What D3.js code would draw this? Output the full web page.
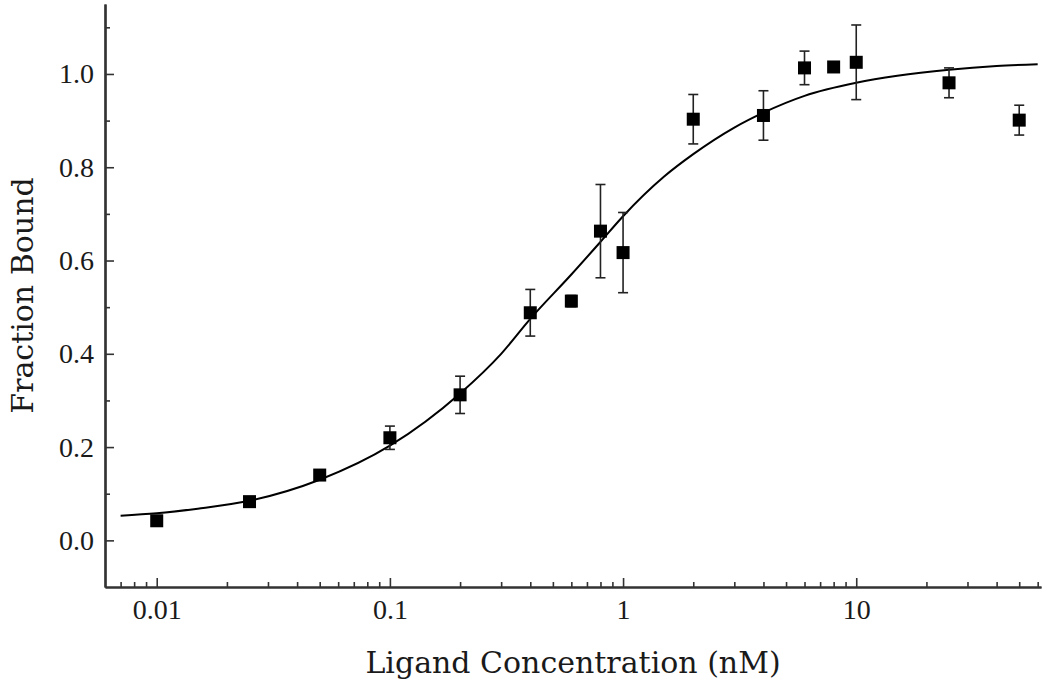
<!DOCTYPE html>
<html>
<head>
<meta charset="utf-8">
<script src="https://cdn.jsdelivr.net/npm/d3@7"></script>
<style>
  html, body { margin: 0; padding: 0; background: #ffffff; }
  svg { display: block; }
</style>
</head>
<body>
<svg id="chart" width="1050" height="685"></svg>
<script>
// ---- data ----
const concentrations = [0.01, 0.025, 0.05, 0.1, 0.2, 0.4, 0.6, 0.8, 1, 2, 4, 6, 8, 10, 25, 50];
const fractionBound  = [0.042, 0.083, 0.14, 0.22, 0.312, 0.488, 0.513, 0.663, 0.617, 0.903, 0.911, 1.013, 1.015, 1.025, 0.981, 0.901];
const errors         = [0.004, 0.004, 0.008, 0.025, 0.04, 0.05, 0.012, 0.1, 0.086, 0.053, 0.053, 0.036, 0.01, 0.08, 0.032, 0.032];

// fitted curve, points
const fitX = [0.007, 0.01, 0.015, 0.025, 0.05, 0.1, 0.2, 0.3, 0.4, 0.6, 0.8, 1, 1.5, 2, 3, 4, 6, 10, 15, 25, 40, 60];
const fitY = [0.053, 0.058, 0.068, 0.085, 0.130, 0.203, 0.315, 0.40, 0.475, 0.57, 0.64, 0.695, 0.78, 0.828, 0.885, 0.917, 0.953, 0.981, 0.996, 1.009, 1.017, 1.021];

const xMajorTicks = [0.01, 0.1, 1, 10];
const xTickLabels = ["0.01", "0.1", "1", "10"];
const yMajorTicks = [0.0, 0.2, 0.4, 0.6, 0.8, 1.0];
const yTickLabels = ["0.0", "0.2", "0.4", "0.6", "0.8", "1.0"];
const yMinorTicks = [0.1, 0.3, 0.5, 0.7, 0.9, 1.1];
const xMinorTicks = [0.007, 0.008, 0.009, 0.02, 0.03, 0.04, 0.05, 0.06, 0.07, 0.08, 0.09,
                     0.2, 0.3, 0.4, 0.5, 0.6, 0.7, 0.8, 0.9, 2, 3, 4, 5, 6, 7, 8, 9, 20, 30, 40, 50, 60];

const xTitle = "Ligand Concentration (nM)";
const yTitle = "Fraction Bound";

// ---- layout ----
const plotLeft = 105, plotRight = 1041, plotTop = 4, plotBottom = 587;
const svg = d3.select("#chart");
const TITLE_FONT = "'DejaVu Serif', serif";
const TICK_FONT = "'Liberation Serif', serif";
const axisColor = "#333";

const x = d3.scaleLog().domain([0.006, 62]).range([plotLeft, plotRight]);
const y = d3.scaleLinear().domain([-0.1, 1.15]).range([plotBottom, plotTop]);

// axes
const xAxis = d3.axisBottom(x).tickValues(xMajorTicks)
  .tickFormat((d, i) => xTickLabels[i]).tickSizeInner(-9).tickSizeOuter(0).tickPadding(12);
const xMinor = d3.axisBottom(x).tickValues(xMinorTicks).tickFormat("").tickSizeInner(-5).tickSizeOuter(0);
const yAxis = d3.axisLeft(y).tickValues(yMajorTicks)
  .tickFormat((d, i) => yTickLabels[i]).tickSizeInner(-9).tickSizeOuter(0).tickPadding(11);
const yMinor = d3.axisLeft(y).tickValues(yMinorTicks).tickFormat("").tickSizeInner(-5).tickSizeOuter(0);

function styleAxis(g) {
  g.select(".domain").attr("stroke", axisColor).attr("stroke-width", 2.2);
  g.selectAll(".tick line").attr("stroke", axisColor).attr("stroke-width", 1.6);
  g.selectAll(".tick text").attr("fill", "#1a1a1a").style("font-family", TICK_FONT).style("font-size", "28px");
}

svg.append("g").attr("transform", `translate(0,${plotBottom})`).call(xMinor).call(styleAxis);
svg.append("g").attr("transform", `translate(0,${plotBottom})`).call(xAxis).call(styleAxis);
svg.append("g").attr("transform", `translate(${plotLeft},0)`).call(yMinor).call(styleAxis);
svg.append("g").attr("transform", `translate(${plotLeft},0)`).call(yAxis).call(styleAxis);

// fit line
const line = d3.line()
  .x((d, i) => x(fitX[i]))
  .y((d, i) => y(fitY[i]))
  .curve(d3.curveMonotoneX);
svg.append("path")
  .datum(fitY)
  .attr("d", line)
  .attr("fill", "none")
  .attr("stroke", "#000")
  .attr("stroke-width", 2);

// error bars
const capW = 5;
const eb = svg.append("g").attr("stroke", "#222").attr("stroke-width", 1.6);
concentrations.forEach((c, i) => {
  const cx = x(c), y1 = y(fractionBound[i] + errors[i]), y2 = y(fractionBound[i] - errors[i]);
  eb.append("line").attr("x1", cx).attr("x2", cx).attr("y1", y1).attr("y2", y2);
  eb.append("line").attr("x1", cx - capW).attr("x2", cx + capW).attr("y1", y1).attr("y2", y1);
  eb.append("line").attr("x1", cx - capW).attr("x2", cx + capW).attr("y1", y2).attr("y2", y2);
});

// square markers
const sz = 13;
svg.append("g").selectAll("rect")
  .data(concentrations)
  .join("rect")
  .attr("x", d => x(d) - sz / 2)
  .attr("y", (d, i) => y(fractionBound[i]) - sz / 2)
  .attr("width", sz).attr("height", sz)
  .attr("fill", "#000");

// titles
svg.append("text")
  .attr("x", (plotLeft + plotRight) / 2).attr("y", 673)
  .attr("text-anchor", "middle")
  .style("font-family", TITLE_FONT).style("font-size", "30px").attr("fill", "#1a1a1a")
  .text(xTitle);

svg.append("text")
  .attr("transform", `translate(33,${(plotTop + plotBottom) / 2}) rotate(-90)`)
  .attr("text-anchor", "middle")
  .style("font-family", TITLE_FONT).style("font-size", "30px").attr("fill", "#1a1a1a")
  .text(yTitle);
</script>
</body>
</html>
